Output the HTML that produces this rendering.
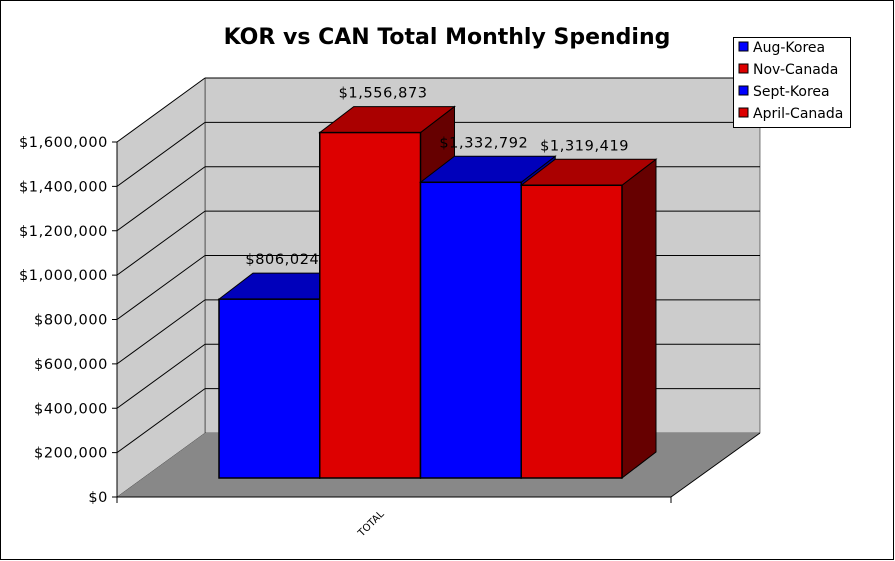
<!DOCTYPE html>
<html><head><meta charset="utf-8"><style>
body{margin:0;background:#fff}
svg{display:block;font-family:"DejaVu Sans","Liberation Sans",sans-serif}
</style></head><body>
<svg id="chart" width="895" height="561" viewBox="0 0 895 561">
<rect x="0.5" y="0.5" width="893" height="559" fill="#fff" stroke="#000"/>
<text x="447" y="44" text-anchor="middle" font-size="22" font-weight="bold">KOR vs CAN Total Monthly Spending</text>
<g id="walls"></g><g id="grid"></g><g id="bars"></g><g id="labels"></g><g id="axis"></g>
<g id="legend"><rect x="733.5" y="37.5" width="117" height="90" fill="#fff" stroke="#000"/></g>
</svg>
<script>
const categories=["Aug-Korea","Nov-Canada","Sept-Korea","April-Canada"];
const values=[806024,1556873,1332792,1319419];
const valueLabels=["$806,024","$1,556,873","$1,332,792","$1,319,419"];
const tickValues=[0,200000,400000,600000,800000,1000000,1200000,1400000,1600000];
const tickLabels=["$0","$200,000","$400,000","$600,000","$800,000","$1,000,000","$1,200,000","$1,400,000","$1,600,000"];
const xLabel="TOTAL";
const fronts=["#0000ff","#dd0000","#0000ff","#dd0000"];
const tops=["#0000bb","#aa0000","#0000bb","#aa0000"];
const sides=["#000099","#660000","#000099","#660000"];
const NS="http://www.w3.org/2000/svg";
const MAX=1600000,H=355;
const yF=v=>497-v/MAX*H; // front axis
const yB=v=>433-v/MAX*H; // back wall
const yBar=v=>478-v/MAX*H;
function mk(tag,attrs,parent,name){const e=document.createElementNS(NS,tag);for(const k in attrs)e.setAttribute(k,attrs[k]);


document.getElementById(parent).appendChild(e);return e;}
const W=document.getElementById('walls');
mk('polygon',{points:"205,78 760,78 760,433 205,433",fill:"#cccccc",stroke:"#000","stroke-width":0.5},'walls','back-wall');
mk('polygon',{points:"117,142 205,78 205,433 117,497",fill:"#cccccc",stroke:"#000","stroke-width":0.5},'walls','side-wall');
mk('polygon',{points:"117,497 205,433 760,433 671,497",fill:"#888888"},'walls','floor');
tickValues.forEach((t,i)=>{
 if(t>0){mk('line',{x1:205,y1:yB(t),x2:760,y2:yB(t),stroke:"#000","stroke-width":1},'grid','gridline-back');
 mk('line',{x1:117,y1:yF(t),x2:205,y2:yB(t),stroke:"#000","stroke-width":1},'grid','gridline-side');}
 mk('line',{x1:112,y1:yF(t),x2:117,y2:yF(t),stroke:"#000"},'axis','y-tick');
 const tx=mk('text',{x:108,y:yF(t)+5,"text-anchor":"end","font-size":14.5,"letter-spacing":"0.6"},'axis','y-tick-label');tx.textContent=tickLabels[i];
});
mk('line',{x1:117,y1:142,x2:117,y2:503},'axis','y-axis-line').setAttribute('stroke','#000');
mk('line',{x1:117,y1:497,x2:671,y2:497,stroke:"#000"},'axis','x-axis-line');
mk('line',{x1:671,y1:497,x2:760,y2:433,stroke:"#000"},'axis','floor-edge');
mk('line',{x1:671,y1:497,x2:671,y2:503,stroke:"#000"},'axis','x-tick');
const xl=mk('text',{x:0,y:0,"font-size":10,transform:"translate(362,537) rotate(-45)"},'axis','x-category-label');xl.textContent=xLabel;
const x0=219,bw=100.75,dx=34,dy=26,yb=478;
values.forEach((v,i)=>{
 const l=x0+i*bw,r=l+bw,t=yBar(v);
 mk('polygon',{points:`${r},${t} ${r+dx},${t-dy} ${r+dx},${yb-dy} ${r},${yb}`,fill:sides[i],stroke:"#000","stroke-width":1},'bars','bar-side-'+i);
 mk('polygon',{points:`${l},${t} ${l+dx},${t-dy} ${r+dx},${t-dy} ${r},${t}`,fill:tops[i],stroke:"#000","stroke-width":1},'bars','bar-top-'+i);
 mk('rect',{x:l,y:t,width:bw,height:yb-t,fill:fronts[i],stroke:"#000","stroke-width":1.5},'bars','bar-'+categories[i].toLowerCase());
 const lb=mk('text',{x:l+bw/2+13,y:t-dy-9,"text-anchor":"middle","font-size":14.5,"letter-spacing":"0.6"},'labels','value-label');lb.textContent=valueLabels[i];
});
categories.forEach((c,i)=>{
 const y=42+i*22;
 mk('rect',{x:739,y:y,width:9,height:9,fill:fronts[i],stroke:"#000"},'legend','legend-swatch');
 const tx=mk('text',{x:753,y:y+10,"font-size":14},'legend','legend-entry');tx.textContent=c;
});
</script>
</body></html>
